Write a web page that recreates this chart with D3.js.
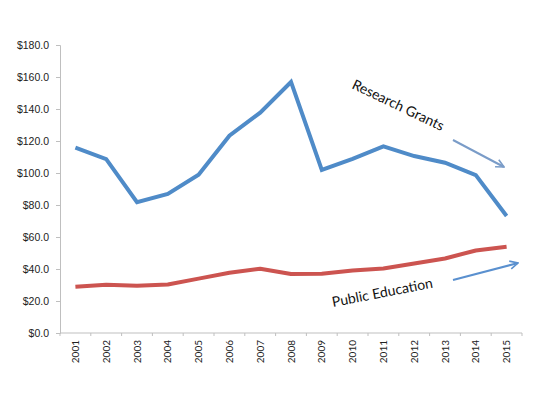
<!DOCTYPE html>
<html>
<head>
<meta charset="utf-8">
<script src="https://cdn.jsdelivr.net/npm/d3@7"></script>
<style>
  body { margin: 0; background: #fff; }
  svg { display: block; font-family: Lato, "Open Sans", sans-serif; }
</style>
</head>
<body>
<div id="chart"></div>
<script>
const years = ["2001", "2002", "2003", "2004", "2005", "2006", "2007", "2008",
  "2009", "2010", "2011", "2012", "2013", "2014", "2015"];
const researchGrants = [115.8, 108.7, 81.7, 86.9, 98.9, 123.3, 137.7, 156.9,
  101.9, 108.8, 116.7, 110.6, 106.4, 98.7, 73.1];
const publicEducation = [28.9, 30.2, 29.6, 30.3, 34.0, 37.6, 40.2, 36.9,
  37.0, 39.0, 40.3, 43.4, 46.6, 51.6, 53.9];
const yTicks = [0, 20, 40, 60, 80, 100, 120, 140, 160, 180];

const width = 560, height = 393;
const margin = {top: 45, right: 38, bottom: 60, left: 60};
const w = width - margin.left - margin.right,
      h = height - margin.top - margin.bottom;

let svg = d3.select("#chart")
  .append("svg")
  .attr("width", width)
  .attr("height", height)
  .append("g")
  .attr("transform", `translate(${margin.left},${margin.top})`);

let x = d3.scaleBand().domain(years).range([0, w]);
let y = d3.scaleLinear().domain([0, 180]).range([h, 0]);

// y axis
let yAxis = svg.append("g")
  .call(d3.axisLeft(y).tickValues(yTicks).tickSize(4).tickPadding(7)
    .tickFormat(d => "$" + d3.format(".1f")(d)));
yAxis.selectAll("path, line").attr("stroke", "#bfbfbf");
yAxis.selectAll("text").attr("fill", "#222").style("font-size", "10.5px");

// x axis: ticks at band edges, labels at band centers
svg.append("line")
  .attr("x1", 0).attr("x2", w).attr("y1", h).attr("y2", h)
  .attr("stroke", "#bfbfbf");
let edges = years.map(d => x(d)).concat([w]);
svg.append("g").selectAll("line").data(edges).enter()
  .append("line")
  .attr("x1", d => d).attr("x2", d => d)
  .attr("y1", h).attr("y2", h + 3)
  .attr("stroke", "#bfbfbf");
svg.append("g").selectAll("text").data(years).enter()
  .append("text")
  .attr("transform", d => `translate(${x(d) + x.bandwidth() / 2},${h + 7}) rotate(-90)`)
  .attr("dy", "0.35em")
  .style("text-anchor", "end")
  .style("font-size", "10px")
  .attr("fill", "#222")
  .text(d => d);

let line = d3.line()
  .x((d, i) => x(years[i]) + x.bandwidth() / 2)
  .y(d => y(d));

svg.append("path").datum(publicEducation)
  .attr("d", line)
  .attr("fill", "none")
  .attr("stroke", "#cc5450")
  .attr("stroke-width", 4)
  .attr("stroke-linejoin", "round");

svg.append("path").datum(researchGrants)
  .attr("d", line)
  .attr("fill", "none")
  .attr("stroke", "#4f8bc8")
  .attr("stroke-width", 4)
  .attr("stroke-linejoin", "miter");

// annotations (page coordinates)
let notes = d3.select("#chart svg");
let defs = notes.append("defs");
function marker(id, color) {
  defs.append("marker")
    .attr("id", id)
    .attr("viewBox", "0 0 10 10")
    .attr("refX", 9).attr("refY", 5)
    .attr("markerWidth", 5).attr("markerHeight", 5)
    .attr("orient", "auto")
    .append("path")
    .attr("d", "M1,1 L9,5 L1,9")
    .attr("fill", "none")
    .attr("stroke", color)
    .attr("stroke-width", 1.6);
}
marker("a1", "#7a9cc8");
marker("a2", "#5a90cf");

notes.append("text")
  .attr("transform", "translate(351,88) rotate(25.5)")
  .style("font-size", "14px")
  .attr("fill", "#111")
  .text("Research Grants");
notes.append("line")
  .attr("x1", 453).attr("y1", 140).attr("x2", 504).attr("y2", 167)
  .attr("stroke", "#7a9cc8").attr("stroke-width", 2)
  .attr("marker-end", "url(#a1)");

notes.append("text")
  .attr("transform", "translate(333,307) rotate(-11)")
  .style("font-size", "14px")
  .attr("fill", "#111")
  .text("Public Education");
notes.append("line")
  .attr("x1", 453).attr("y1", 280).attr("x2", 518).attr("y2", 263)
  .attr("stroke", "#5a90cf").attr("stroke-width", 2)
  .attr("marker-end", "url(#a2)");
</script>
</body>
</html>
